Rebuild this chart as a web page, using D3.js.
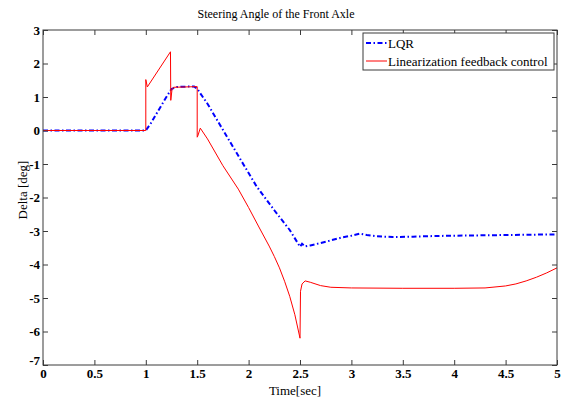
<!DOCTYPE html>
<html>
<head>
<meta charset="utf-8">
<script src="https://cdn.jsdelivr.net/npm/d3@7"></script>
<style>
  html, body { margin: 0; padding: 0; background: #fff; }
  svg { display: block; }
  text { font-family: "Liberation Serif", "Times New Roman", serif; }
</style>
</head>
<body>
<svg id="chart" width="565" height="397"></svg>
<script>
// Steering angle of the front axle: LQR vs. linearization feedback control
const lqrTime = [0, 1.0, 1.05, 1.1, 1.15, 1.2, 1.25, 1.3, 1.4, 1.47, 1.5, 1.53, 1.6, 1.75,
  2.0, 2.08, 2.25, 2.4, 2.5, 2.52, 2.55, 2.6, 2.7, 2.8, 2.9, 3.0, 3.08, 3.15, 3.25, 3.4,
  3.6, 3.8, 4.0, 4.5, 5.0];
const lqrDelta = [0, 0, 0.22, 0.48, 0.74, 1.0, 1.24, 1.3, 1.31, 1.31, 1.25, 1.11, 0.8, 0.02,
  -1.27, -1.68, -2.38, -2.97, -3.47, -3.38, -3.46, -3.43, -3.36, -3.28, -3.2, -3.14, -3.08,
  -3.12, -3.16, -3.18, -3.17, -3.15, -3.14, -3.12, -3.1];

const lfcTime = [0, 1.0, 1.0, 1.015, 1.24, 1.243, 1.255, 1.27, 1.5, 1.5, 1.505, 1.53, 1.6,
  1.75, 1.9, 2.0, 2.1, 2.2, 2.25, 2.3, 2.35, 2.4, 2.45, 2.5, 2.505, 2.52, 2.55, 2.6, 2.7,
  2.8, 3.0, 3.5, 4.0, 4.3, 4.5, 4.6, 4.7, 4.8, 4.9, 5.0];
const lfcDelta = [0, 0, 1.52, 1.3, 2.35, 0.9, 1.22, 1.29, 1.31, -0.2, -0.17, 0.07, -0.25,
  -1.05, -1.75, -2.3, -2.88, -3.45, -3.76, -4.1, -4.5, -4.95, -5.5, -6.2, -4.8, -4.58, -4.49,
  -4.53, -4.63, -4.68, -4.7, -4.71, -4.71, -4.7, -4.64, -4.58, -4.49, -4.38, -4.25, -4.1];

const xTicks = [0, 0.5, 1, 1.5, 2, 2.5, 3, 3.5, 4, 4.5, 5];
const yTicks = [3, 2, 1, 0, -1, -2, -3, -4, -5, -6, -7];

const titleText = "Steering Angle of the Front Axle";
const xLabel = "Time[sec]";
const yLabel = "Delta [deg]";
const seriesNames = ["LQR", "Linearization feedback control"];

const svg = d3.select("#chart");
const plotLeft = 43, plotRight = 557, plotTop = 30, plotBottom = 365;

const x = d3.scaleLinear().domain([0, 5]).range([plotLeft, plotRight]);
const y = d3.scaleLinear().domain([-7, 3]).range([plotBottom, plotTop]);

const frameColor = "#3a3a3a";
const tickLabel = d => String(d);   // plain hyphen-minus for negatives

// data lines
const line = d3.line().x(d => x(d[0])).y(d => y(d[1]));
svg.append("path")
  .datum(d3.zip(lqrTime, lqrDelta))
  .attr("d", line).attr("fill", "none")
  .attr("stroke", "#0000ff").attr("stroke-width", 2)
  .attr("stroke-dasharray", "5,2.5,1.5,2.5");
svg.append("path")
  .datum(d3.zip(lfcTime, lfcDelta))
  .attr("d", line).attr("fill", "none")
  .attr("stroke", "#ff0000").attr("stroke-width", 1);

// axes with inward ticks on all four sides
function styleAxis(g) {
  g.select(".domain").remove();
  g.selectAll(".tick line").attr("stroke", frameColor);
  g.selectAll(".tick text").attr("fill", "#000")
    .style("font-family", '"Liberation Serif", "Times New Roman", serif')
    .style("font-size", "13px").style("font-weight", "bold");
}
svg.append("g").attr("transform", `translate(0,${plotBottom})`)
  .call(d3.axisBottom(x).tickValues(xTicks).tickSizeInner(-5).tickSizeOuter(0)
    .tickPadding(4).tickFormat(tickLabel))
  .call(styleAxis);
svg.append("g").attr("transform", `translate(0,${plotTop})`)
  .call(d3.axisTop(x).tickValues(xTicks).tickSizeInner(-5).tickSizeOuter(0).tickFormat(""))
  .call(styleAxis);
const yAxisG = svg.append("g").attr("transform", `translate(${plotLeft},0)`)
  .call(d3.axisLeft(y).tickValues(yTicks).tickSizeInner(-5).tickSizeOuter(0)
    .tickPadding(3).tickFormat(tickLabel))
  .call(styleAxis);
yAxisG.selectAll(".tick text").filter(d => d === -7).attr("dy", "-0.05em");
svg.append("g").attr("transform", `translate(${plotRight},0)`)
  .call(d3.axisRight(y).tickValues(yTicks).tickSizeInner(-5).tickSizeOuter(0).tickFormat(""))
  .call(styleAxis);

// frame
svg.append("rect").attr("x", plotLeft).attr("y", plotTop)
  .attr("width", plotRight - plotLeft).attr("height", plotBottom - plotTop)
  .attr("fill", "none").attr("stroke", frameColor).attr("stroke-width", 1);

// title and axis labels
svg.append("text").attr("x", 276).attr("y", 18)
  .attr("text-anchor", "middle").style("font-size", "12px").text(titleText);
svg.append("text").attr("x", 295).attr("y", 395)
  .attr("text-anchor", "middle").style("font-size", "13px").text(xLabel);
svg.append("text").attr("transform", "translate(27,190) rotate(-90)")
  .attr("text-anchor", "middle").style("font-size", "13px").text(yLabel);

// legend
const legend = svg.append("g").attr("transform", "translate(363,33)");
legend.append("rect").attr("width", 191).attr("height", 37)
  .attr("fill", "#fff").attr("stroke", frameColor).attr("stroke-width", 1);
const legendStyles = [
  { color: "#0000ff", width: 2, dash: "5,2.5,1.5,2.5" },
  { color: "#ff0000", width: 1, dash: null }
];
seriesNames.forEach((name, i) => {
  const yy = 10 + i * 18;
  legend.append("line").attr("x1", 3).attr("x2", 24).attr("y1", yy).attr("y2", yy)
    .attr("stroke", legendStyles[i].color).attr("stroke-width", legendStyles[i].width)
    .attr("stroke-dasharray", legendStyles[i].dash);
  legend.append("text").attr("x", 25).attr("y", yy + 4.5)
    .style("font-size", "13px").text(name);
});
</script>
</body>
</html>
